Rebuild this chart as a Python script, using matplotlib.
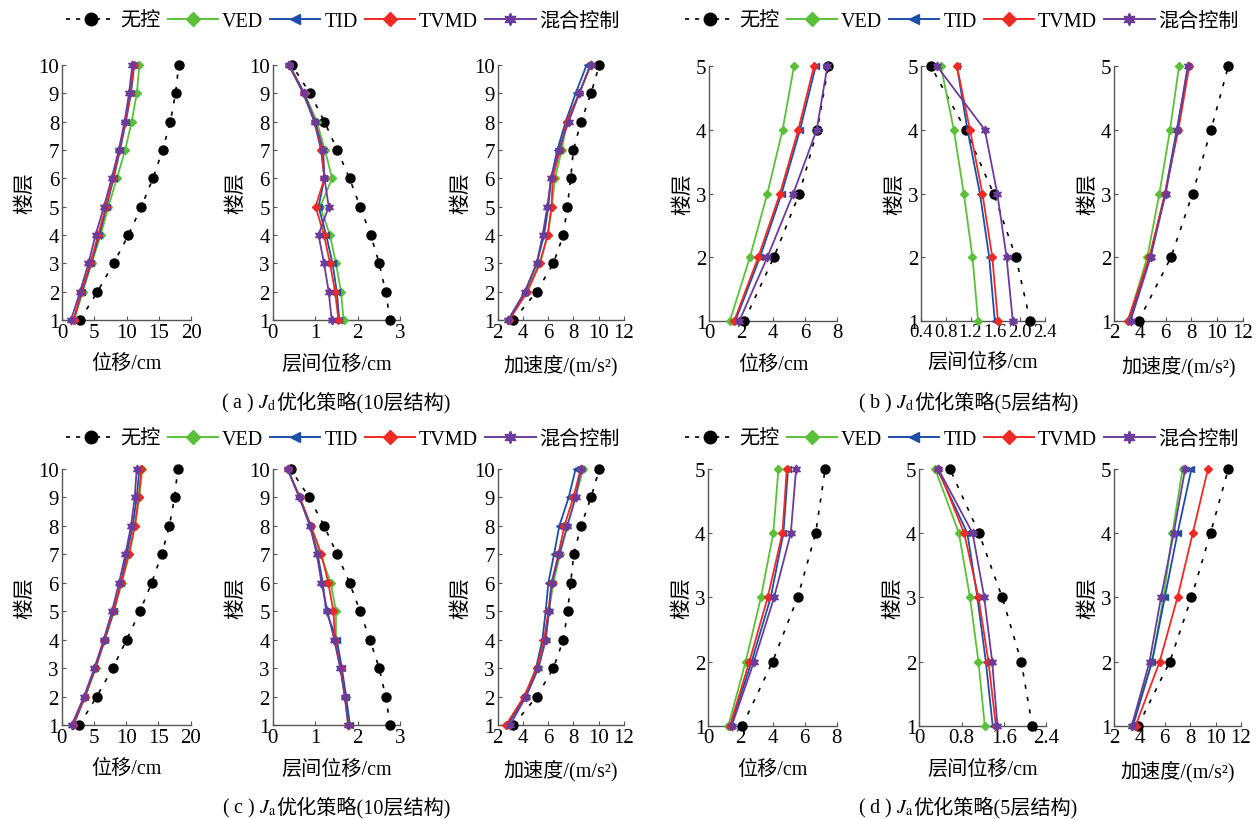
import numpy as np
import matplotlib
matplotlib.use("Agg")
import matplotlib.pyplot as plt
from matplotlib.lines import Line2D

plt.rcParams['font.family'] = ['Liberation Serif', 'Noto Sans CJK SC']
plt.rcParams['mathtext.fontset'] = 'stix'

# 楼层
floors10 = np.arange(1, 11)
floors5 = np.arange(1, 6)

# 每个数组按顺序: 无控, VED, TID, TVMD, 混合控制
a_disp = [[2.8, 5.5, 8.0, 10.3, 12.3, 14.1, 15.6, 16.8, 17.6, 18.1],
          [1.9, 3.2, 4.6, 6.0, 7.2, 8.5, 9.8, 10.8, 11.6, 12.0],
          [1.8, 3.1, 4.5, 5.8, 6.9, 8.0, 9.0, 9.9, 10.7, 11.2],
          [1.8, 3.0, 4.4, 5.6, 6.8, 7.9, 8.9, 9.8, 10.6, 11.1],
          [1.4, 2.8, 4.1, 5.2, 6.5, 7.7, 8.8, 9.7, 10.4, 10.9]]
a_drift = [[2.77, 2.66, 2.51, 2.31, 2.06, 1.81, 1.52, 1.22, 0.88, 0.45],
           [1.67, 1.61, 1.49, 1.35, 1.12, 1.40, 1.23, 1.04, 0.75, 0.39],
           [1.57, 1.51, 1.41, 1.26, 1.08, 1.22, 1.14, 0.98, 0.72, 0.38],
           [1.55, 1.47, 1.35, 1.21, 1.01, 1.22, 1.15, 1.00, 0.74, 0.38],
           [1.39, 1.32, 1.21, 1.08, 1.32, 1.22, 1.19, 1.00, 0.74, 0.39]]
a_acc = [[3.24, 5.09, 6.41, 7.20, 7.51, 7.78, 7.99, 8.60, 9.39, 10.05],
         [2.84, 4.24, 5.30, 5.96, 6.27, 6.54, 7.07, 7.46, 8.46, 9.31],
         [2.84, 4.16, 5.09, 5.67, 6.01, 6.22, 6.72, 7.38, 8.17, 9.04],
         [2.92, 4.35, 5.35, 5.96, 6.27, 6.35, 6.93, 7.46, 8.46, 9.36],
         [2.84, 4.16, 5.09, 5.56, 5.93, 6.22, 6.83, 7.62, 8.46, 9.36]]

b_disp = [[2.19, 4.04, 5.63, 6.75, 7.44],
          [1.29, 2.54, 3.63, 4.58, 5.29],
          [1.63, 3.17, 4.52, 5.67, 6.65],
          [1.56, 3.06, 4.42, 5.56, 6.54],
          [1.88, 3.63, 5.25, 6.71, 7.38]]
b_drift = [[2.16, 1.93, 1.57, 1.12, 0.56],
           [1.32, 1.23, 1.09, 0.93, 0.72],
           [1.59, 1.50, 1.35, 1.15, 0.98],
           [1.64, 1.55, 1.39, 1.19, 0.98],
           [1.88, 1.78, 1.63, 1.43, 0.66]]
b_acc = [[3.9, 6.42, 8.10, 9.53, 10.88],
         [3.09, 4.57, 5.51, 6.34, 7.04],
         [3.17, 4.78, 5.95, 6.86, 7.77],
         [3.04, 4.73, 5.95, 6.99, 7.84],
         [3.27, 4.83, 6.00, 6.91, 7.71]]

c_disp = [[2.74, 5.43, 7.91, 10.08, 12.14, 13.95, 15.5, 16.7, 17.5, 18.0],
          [1.81, 3.67, 5.27, 6.72, 8.11, 9.30, 10.49, 11.37, 12.04, 12.5],
          [1.81, 3.62, 5.22, 6.67, 8.06, 9.20, 10.08, 11.0, 11.63, 12.04],
          [1.71, 3.57, 5.17, 6.61, 8.01, 9.25, 10.39, 11.32, 11.94, 12.35],
          [1.55, 3.46, 5.06, 6.51, 7.80, 8.89, 9.87, 10.75, 11.32, 11.63]]
c_drift = [[2.77, 2.66, 2.51, 2.29, 2.06, 1.81, 1.52, 1.21, 0.86, 0.42],
           [1.80, 1.72, 1.61, 1.49, 1.49, 1.37, 1.12, 0.90, 0.64, 0.35],
           [1.82, 1.73, 1.63, 1.51, 1.26, 1.18, 1.06, 0.88, 0.63, 0.35],
           [1.78, 1.70, 1.60, 1.47, 1.43, 1.31, 1.15, 0.90, 0.64, 0.35],
           [1.78, 1.70, 1.59, 1.45, 1.29, 1.15, 1.04, 0.88, 0.63, 0.35]]
c_acc = [[3.24, 5.09, 6.41, 7.20, 7.54, 7.78, 8.02, 8.60, 9.39, 10.05],
         [2.77, 4.24, 5.22, 5.80, 6.06, 6.41, 6.93, 7.51, 8.15, 8.78],
         [2.77, 4.16, 5.03, 5.54, 5.80, 6.01, 6.46, 6.88, 7.62, 8.17],
         [2.66, 4.08, 5.09, 5.67, 6.01, 6.27, 6.80, 7.28, 7.99, 8.57],
         [2.98, 4.24, 5.22, 5.80, 6.06, 6.27, 6.88, 7.51, 8.17, 8.60]]

d_disp = [[2.12, 4.01, 5.57, 6.69, 7.28],
          [1.25, 2.33, 3.28, 4.05, 4.37],
          [1.39, 2.70, 3.89, 4.68, 4.97],
          [1.35, 2.56, 3.70, 4.62, 4.89],
          [1.46, 2.85, 4.10, 5.14, 5.47]]
d_drift = [[2.14, 1.93, 1.57, 1.13, 0.58],
           [1.24, 1.12, 0.96, 0.75, 0.30],
           [1.39, 1.26, 1.10, 0.91, 0.34],
           [1.45, 1.31, 1.12, 0.85, 0.36],
           [1.48, 1.38, 1.23, 1.01, 0.36]]
d_acc = [[3.9, 6.4, 8.1, 9.6, 11.0],
         [3.4, 5.0, 5.9, 6.6, 7.4],
         [3.5, 5.0, 6.0, 7.0, 8.1],
         [3.7, 5.6, 7.0, 8.2, 9.4],
         [3.4, 4.8, 5.7, 6.7, 7.6]]

names = ['无控', 'VED', 'TID', 'TVMD', '混合控制']
colors = ['black', '#5cbf3a', '#1c4fa6', '#ee2a24', '#6b3c99']
markers = ['o', 'D', '<', 'D', (6, 1, 0)]
msizes = [6.5, 4.2, 5.0, 4.2, 6.5]

W, H = 1257, 820
fig = plt.figure(figsize=(W / 100, H / 100), dpi=100)
axis_gray = '#555555'


def add_panel(x0, x1, ytop, ybot, floors, series, xlim, xticks, xticklabels, xlabel,
              xtick_size=15):
    ax = fig.add_axes([x0 / W, 1 - ybot / H, (x1 - x0) / W, (ybot - ytop) / H])
    for i, vals in enumerate(series):
        if i == 0:
            ax.plot(vals, floors, color='black', ls=(0, (2.5, 5)), lw=1.2,
                    marker='o', ms=msizes[0], clip_on=False, zorder=3)
        else:
            ax.plot(vals, floors, color=colors[i], lw=1.3, marker=markers[i],
                    ms=msizes[i], clip_on=False, zorder=3 + i)
    ax.set_xlim(*xlim)
    ax.set_ylim(floors[0], floors[-1])
    ax.set_xticks(xticks)
    ax.set_xticklabels(xticklabels)
    ax.set_yticks(floors)
    for s in ['top', 'right']:
        ax.spines[s].set_visible(False)
    for s in ['left', 'bottom']:
        ax.spines[s].set_color(axis_gray)
        ax.spines[s].set_linewidth(1.0)
    ax.tick_params(direction='in', length=3, color=axis_gray, labelsize=15, pad=2)
    ax.tick_params(axis='x', labelsize=xtick_size)
    ax.set_xlabel(xlabel, fontsize=14.5, labelpad=9)
    ax.set_ylabel('楼层', fontsize=15, labelpad=2)
    return ax


acc_label = '加速度/(m/s²)'
acc_ticks = [2, 4, 6, 8, 10, 12]

# 上排: 10层 (a) 与 5层 (b)
top, bot = 66, 321
add_panel(62, 191, top, bot, floors10, a_disp, (0, 20), [0, 5, 10, 15, 20],
          ['0', '5', '10', '15', '20'], '位移/cm')
add_panel(272.7, 400, top, bot, floors10, a_drift, (0, 3), [0, 1, 2, 3],
          ['0', '1', '2', '3'], '层间位移/cm')
add_panel(497.7, 624, top, bot, floors10, a_acc, (2, 12), acc_ticks,
          [str(t) for t in acc_ticks], acc_label)
add_panel(709.3, 837.3, 67.3, 321.7, floors5, b_disp, (0, 8), [0, 2, 4, 6, 8],
          ['0', '2', '4', '6', '8'], '位移/cm')
add_panel(921, 1045, 67.3, 321.7, floors5, b_drift, (0.4, 2.4),
          [0.4, 0.8, 1.2, 1.6, 2.0, 2.4], ['0.4', '0.8', '1.2', '1.6', '2.0', '2.4'],
          '层间位移/cm', xtick_size=13.5)
add_panel(1114.3, 1242.7, 67.3, 321.7, floors5, b_acc, (2, 12), acc_ticks,
          [str(t) for t in acc_ticks], acc_label)

# 下排: 10层 (c) 与 5层 (d)
top, bot = 470, 726
add_panel(61.7, 190.7, top, bot, floors10, c_disp, (0, 20), [0, 5, 10, 15, 20],
          ['0', '5', '10', '15', '20'], '位移/cm')
add_panel(272.7, 400, top, bot, floors10, c_drift, (0, 3), [0, 1, 2, 3],
          ['0', '1', '2', '3'], '层间位移/cm')
add_panel(497.7, 624, top, bot, floors10, c_acc, (2, 12), acc_ticks,
          [str(t) for t in acc_ticks], acc_label)
add_panel(708.3, 836.7, 470, 726.7, floors5, d_disp, (0, 8), [0, 2, 4, 6, 8],
          ['0', '2', '4', '6', '8'], '位移/cm')
add_panel(919.3, 1046, 470, 726.7, floors5, d_drift, (0, 2.4), [0, 0.8, 1.6, 2.4],
          ['0', '0.8', '1.6', '2.4'], '层间位移/cm')
add_panel(1114, 1241, 470, 726.7, floors5, d_acc, (2, 12), acc_ticks,
          [str(t) for t in acc_ticks], acc_label)

# 图例
handles = [Line2D([], [], color='black', ls=(0, (2.5, 3.5)), lw=1.2, marker='o', ms=9)]
for i in range(1, 5):
    handles.append(Line2D([], [], color=colors[i], lw=1.4, marker=markers[i], ms=msizes[i] + 2.5))
for cx, cy in [(343, 22), (962, 22), (343, 440), (962, 440)]:
    fig.legend(handles, names, loc='center', bbox_to_anchor=(cx / W, 1 - cy / H),
               ncol=5, frameon=False, fontsize=14.5, handlelength=2.5,
               handletextpad=0.2, columnspacing=0.35)

# 子图标题: 数学部分与中文部分分开绘制
renderer = fig.canvas.get_renderer()
captions = [(336, 403, '( a ) $J_{\\mathrm{d}}$', '优化策略(10层结构)'),
            (968, 403, '( b ) $J_{\\mathrm{d}}$', '优化策略(5层结构)'),
            (336, 808, '( c ) $J_{\\mathrm{a}}$', '优化策略(10层结构)'),
            (968, 808, '( d ) $J_{\\mathrm{a}}$', '优化策略(5层结构)')]
for cx, cy, head, tail in captions:
    y = 1 - (cy + 5) / H
    t1 = fig.text(0, y, head, ha='left', va='baseline', fontsize=14.5)
    t2 = fig.text(0, y, tail, ha='left', va='baseline', fontsize=14.5)
    w1 = t1.get_window_extent(renderer).width
    w2 = t2.get_window_extent(renderer).width
    x_start = cx - (w1 + w2) / 2
    t1.set_x(x_start / W)
    t2.set_x((x_start + w1) / W)

fig.savefig('out.png', dpi=100)
